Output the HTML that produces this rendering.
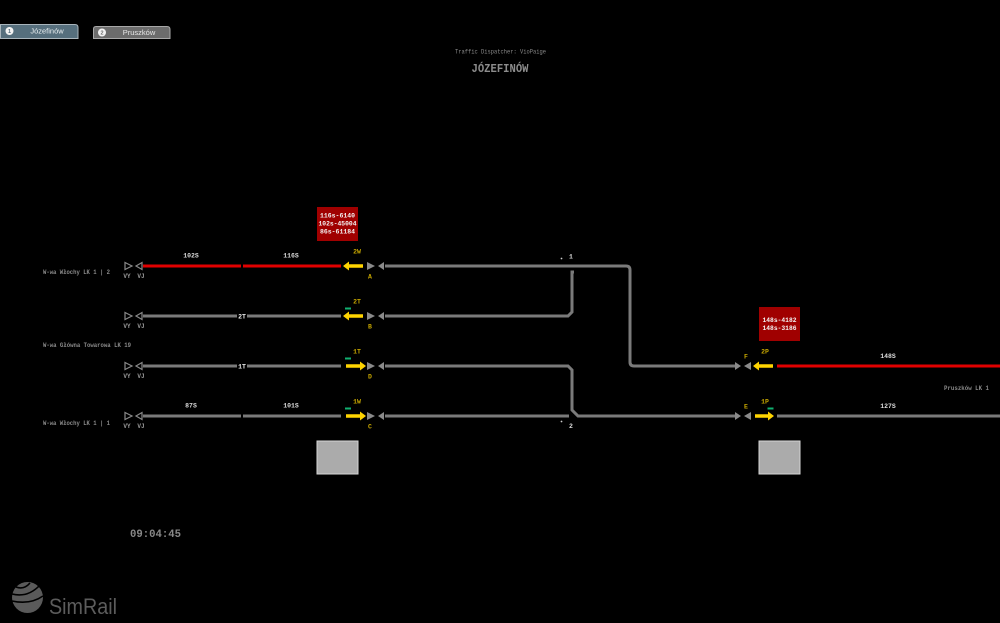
<!DOCTYPE html>
<html><head><meta charset="utf-8"><style>
html,body{margin:0;padding:0;background:#000;width:1000px;height:623px;overflow:hidden}
svg{display:block}
text{font-family:"Liberation Mono",monospace}
.l{font-size:6.5px;fill:#dcdcdc;text-anchor:middle;font-weight:bold}
.y{font-size:6.5px;fill:#c9a800;text-anchor:middle;font-weight:bold}
.s{font-size:6px;fill:#8a8a8a;font-weight:bold}
</style></head><body>
<svg width="1000" height="623" viewBox="0 0 1000 623" xmlns="http://www.w3.org/2000/svg">
<rect width="1000" height="623" fill="#000"/>

<!-- tabs -->
<path d="M0.5,24.5 H75 Q78,24.5 78,27.5 V38.5 H0.5 Z" fill="#566f7d" stroke="#a9b5bc" stroke-width="1"/>
<circle cx="9.5" cy="31" r="4" fill="#f2f2f2"/>
<text x="9.5" y="33" style="font-family:'Liberation Sans',sans-serif;font-size:5.5px;fill:#566f7d;text-anchor:middle;font-weight:bold">1</text>
<text x="47" y="33.5" style="font-family:'Liberation Sans',sans-serif;font-size:7.5px;fill:#e8eef0;text-anchor:middle">Józefinów</text>

<path d="M93.5,38.5 V29 Q93.5,26.5 96,26.5 H167 Q170,26.5 170,29.5 V38.5 Z" fill="#6c6c6c" stroke="#a8a8a8" stroke-width="1"/>
<circle cx="102" cy="32.5" r="4" fill="#f2f2f2"/>
<text x="102" y="34.5" style="font-family:'Liberation Sans',sans-serif;font-size:5.5px;fill:#6c6c6c;text-anchor:middle;font-weight:bold">2</text>
<text x="139" y="35" style="font-family:'Liberation Sans',sans-serif;font-size:7.5px;fill:#e6e6e6;text-anchor:middle">Pruszków</text>

<!-- title -->
<text x="500.5" y="53.5" textLength="91" lengthAdjust="spacingAndGlyphs" style="font-size:6px;fill:#8a8a8a;text-anchor:middle">Traffic Dispatcher: VioPaige</text>
<text x="500" y="72" textLength="57" lengthAdjust="spacingAndGlyphs" style="font-size:12px;fill:#8c8c8c;text-anchor:middle;font-weight:bold">JÓZEFINÓW</text>

<!-- left station labels -->
<text class="s" x="43" y="274" textLength="67" lengthAdjust="spacingAndGlyphs">W-wa Włochy LK 1 | 2</text>
<text class="s" x="43" y="347" textLength="88" lengthAdjust="spacingAndGlyphs">W-wa Główna Towarowa LK 19</text>
<text class="s" x="43" y="425" textLength="67" lengthAdjust="spacingAndGlyphs">W-wa Włochy LK 1 | 1</text>
<text class="s" x="944" y="390" textLength="45" lengthAdjust="spacingAndGlyphs">Pruszków LK 1</text>

<!-- left stubs VY/VJ per row -->
<g fill="none" stroke="#8a8a8a" stroke-width="1.2">
  <path d="M125,262.5 V269.5 L132,266 Z"/><path d="M142,262.5 V269.5 L136,266 Z"/>
  <path d="M125,312.5 V319.5 L132,316 Z"/><path d="M142,312.5 V319.5 L136,316 Z"/>
  <path d="M125,362.5 V369.5 L132,366 Z"/><path d="M142,362.5 V369.5 L136,366 Z"/>
  <path d="M125,412.5 V419.5 L132,416 Z"/><path d="M142,412.5 V419.5 L136,416 Z"/>
</g>
<g class="l" style="fill:#9a9a9a;font-size:6px">
  <text x="127" y="278">VY</text><text x="141" y="278">VJ</text>
  <text x="127" y="328">VY</text><text x="141" y="328">VJ</text>
  <text x="127" y="378">VY</text><text x="141" y="378">VJ</text>
  <text x="127" y="428">VY</text><text x="141" y="428">VJ</text>
</g>

<!-- tracks -->
<g stroke-width="3" fill="none">
  <line x1="143" y1="266" x2="241" y2="266" stroke="#e00000"/>
  <line x1="243" y1="266" x2="341" y2="266" stroke="#e00000"/>
  <line x1="143" y1="316" x2="237" y2="316" stroke="#7a7a7a"/>
  <line x1="247" y1="316" x2="341" y2="316" stroke="#7a7a7a"/>
  <line x1="143" y1="366" x2="237" y2="366" stroke="#7a7a7a"/>
  <line x1="247" y1="366" x2="341" y2="366" stroke="#7a7a7a"/>
  <line x1="143" y1="416" x2="241" y2="416" stroke="#7a7a7a"/>
  <line x1="243" y1="416" x2="341" y2="416" stroke="#7a7a7a"/>

  <path d="M385,266 H626 Q630,266 630,270 V362 Q630,366 634,366 H735" stroke="#7a7a7a"/>
  <path d="M574,272 H572 V312 L568,316 H385" stroke="#7a7a7a"/>
  <path d="M385,366 H568 L572,370 V410 L578,416 H735" stroke="#7a7a7a"/>
  <line x1="385" y1="416" x2="569" y2="416" stroke="#7a7a7a"/>

  <line x1="777" y1="366" x2="1000" y2="366" stroke="#e00000"/>
  <line x1="777" y1="416" x2="1000" y2="416" stroke="#7a7a7a"/>
</g>

<!-- inline track labels -->
<text class="l" x="242" y="318.5" style="fill:#eee">2T</text>
<text class="l" x="242" y="368.5" style="fill:#eee">1T</text>
<g class="l">
  <text x="191" y="257.5">102S</text><text x="291" y="257.5">116S</text>
  <text x="191" y="407.5">87S</text><text x="291" y="407.5">101S</text>
  <text x="888" y="358">148S</text><text x="888" y="408">127S</text>
</g>

<!-- junction labels -->
<circle cx="561.5" cy="258.5" r="0.9" fill="#ccc"/>
<text class="l" x="571" y="258.5">1</text>
<circle cx="561.5" cy="421.5" r="0.9" fill="#ccc"/>
<text class="l" x="571" y="428">2</text>

<!-- signals (gray triangles) -->
<g fill="#8a8a8a">
  <path d="M367,262 V270 L375,266 Z"/><path d="M384,262 V270 L378,266 Z"/>
  <path d="M367,312 V320 L375,316 Z"/><path d="M384,312 V320 L378,316 Z"/>
  <path d="M367,362 V370 L375,366 Z"/><path d="M384,362 V370 L378,366 Z"/>
  <path d="M367,412 V420 L375,416 Z"/><path d="M384,412 V420 L378,416 Z"/>
  <path d="M735,362 V370 L741,366 Z"/><path d="M751,362 V370 L744,366 Z"/>
  <path d="M735,412 V420 L741,416 Z"/><path d="M751,412 V420 L744,416 Z"/>
</g>

<!-- yellow arrows -->
<g fill="#ffd400">
  <path d="M343,266 L349,261.5 V264.3 H363 V267.7 H349 V270.5 Z"/>
  <path d="M343,316 L349,311.5 V314.3 H363 V317.7 H349 V320.5 Z"/>
  <path d="M366,366 L360,361.5 V364.3 H346 V367.7 H360 V370.5 Z"/>
  <path d="M366,416 L360,411.5 V414.3 H346 V417.7 H360 V420.5 Z"/>
  <path d="M753,366 L759,361.5 V364.3 H773 V367.7 H759 V370.5 Z"/>
  <path d="M774,416 L768,411.5 V414.3 H755 V417.7 H768 V420.5 Z"/>
</g>

<!-- green bars -->
<g fill="#10b070">
  <rect x="345" y="307.5" width="6" height="2"/>
  <rect x="345" y="357.5" width="6" height="2"/>
  <rect x="345" y="407.5" width="6" height="2"/>
  <rect x="767.5" y="407.5" width="6" height="2"/>
</g>

<!-- signal labels -->
<g class="y">
  <text x="357" y="253.5">2W</text><text x="370" y="278.5">A</text>
  <text x="357" y="303.5">2T</text><text x="370" y="328.5">B</text>
  <text x="357" y="353.5">1T</text><text x="370" y="378.5">D</text>
  <text x="357" y="403.5">1W</text><text x="370" y="428.5">C</text>
  <text x="765" y="353.5">2P</text><text x="746" y="358.5">F</text>
  <text x="765" y="403.5">1P</text><text x="746" y="408.5">E</text>
</g>

<!-- red info boxes -->
<rect x="317" y="207" width="41" height="34" fill="#a00000"/>
<g class="l" style="fill:#f4f4f4;font-size:6.8px">
  <text x="337.5" y="217.5" textLength="35" lengthAdjust="spacingAndGlyphs">116s-6140</text>
  <text x="337.5" y="225.5" textLength="38" lengthAdjust="spacingAndGlyphs">102s-45004</text>
  <text x="337.5" y="233.5" textLength="35" lengthAdjust="spacingAndGlyphs">86s-61184</text>
</g>
<rect x="759" y="307" width="41" height="34" fill="#a00000"/>
<g class="l" style="fill:#f4f4f4;font-size:6.8px">
  <text x="779.5" y="322" textLength="34" lengthAdjust="spacingAndGlyphs">148s-4182</text>
  <text x="779.5" y="330" textLength="34" lengthAdjust="spacingAndGlyphs">148s-3186</text>
</g>

<!-- gray boxes -->
<rect x="317" y="441" width="41" height="33" fill="#ababab" stroke="#d6d6d6" stroke-width="1"/>
<rect x="759" y="441" width="41" height="33" fill="#ababab" stroke="#d6d6d6" stroke-width="1"/>

<!-- clock -->
<text x="130" y="537" textLength="51" lengthAdjust="spacingAndGlyphs" style="font-size:11px;fill:#888;font-weight:bold">09:04:45</text>

<!-- SimRail logo -->
<g>
  <circle cx="27.5" cy="597.5" r="15.5" fill="#5a5a5a"/>
  <g fill="none" stroke="#000" stroke-width="1.6">
    <path d="M16,587 Q24,590 30,583"/>
    <path d="M12,594 Q28,598 40,585"/>
    <path d="M12,601 Q30,605 43,596"/>
  </g>
  <text x="49" y="614" textLength="68" lengthAdjust="spacingAndGlyphs" style="font-family:'Liberation Sans',sans-serif;font-size:22px;fill:#5c5c5c">SimRail</text>
</g>
</svg>
</body></html>
